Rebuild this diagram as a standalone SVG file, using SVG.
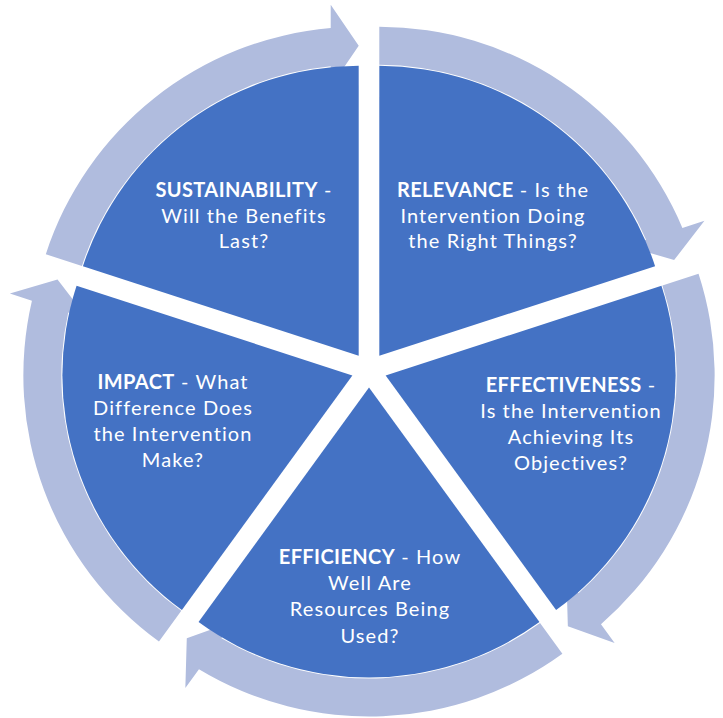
<svg xmlns="http://www.w3.org/2000/svg" xmlns:xlink="http://www.w3.org/1999/xlink" width="723" height="718" viewBox="0 0 723 718">
  <style>
    .wedge { fill: #4472C4; }
    .arrow { fill: #B0BCDE; }
    .lbl { font-family: Lato, "Liberation Sans", sans-serif; font-size: 20px; fill: #FFFFFF; text-anchor: middle; letter-spacing: 1.1px; }
    .b { font-weight: bold; letter-spacing: 0.4px; }
  </style>
  <defs>
    <path id="wedgeShape" d="M0,0 L234.615,-170.458 A290,290 0 0 1 234.615,170.458 Z"/>
    <path id="arrowShape" d="M266.166,-193.381 A329,329 0 0 1 281.662,170.030 L300.423,183.660 L250.795,182.213 L234.083,135.462 L250.789,147.600 A291,291 0 0 0 235.424,-171.045 Z"/>
  </defs>
  <rect width="723" height="718" fill="#FFFFFF"/>
  <g id="connectors">
    <use xlink:href="#arrowShape" class="arrow" transform="translate(369,370) rotate(-54) translate(17.5,0)"/>
    <use xlink:href="#arrowShape" class="arrow" transform="translate(369,370) rotate(18) translate(17.5,0)"/>
    <use xlink:href="#arrowShape" class="arrow" transform="translate(369,370) rotate(90) translate(17.5,0)"/>
    <use xlink:href="#arrowShape" class="arrow" transform="translate(369,370) rotate(162) translate(17.5,0)"/>
    <use xlink:href="#arrowShape" class="arrow" transform="translate(369,370) rotate(234) translate(17.5,0)"/>
  </g>
  <g id="relevance">
    <use xlink:href="#wedgeShape" class="wedge" transform="translate(369,370) rotate(-54) translate(17.5,0)"/>
    <text class="lbl" x="493" y="197"><tspan class="b">RELEVANCE</tspan> - Is the</text>
    <text class="lbl" x="493" y="223">Intervention Doing</text>
    <text class="lbl" x="493" y="248">the Right Things?</text>
  </g>
  <g id="effectiveness">
    <use xlink:href="#wedgeShape" class="wedge" transform="translate(369,370) rotate(18) translate(17.5,0)"/>
    <text class="lbl" x="571" y="392"><tspan class="b">EFFECTIVENESS</tspan> -</text>
    <text class="lbl" x="571" y="418">Is the Intervention</text>
    <text class="lbl" x="571" y="444">Achieving Its</text>
    <text class="lbl" x="571" y="470">Objectives?</text>
  </g>
  <g id="efficiency">
    <use xlink:href="#wedgeShape" class="wedge" transform="translate(369,370) rotate(90) translate(17.5,0)"/>
    <text class="lbl" x="370" y="564"><tspan class="b">EFFICIENCY</tspan> - How</text>
    <text class="lbl" x="370" y="590">Well Are</text>
    <text class="lbl" x="370" y="616">Resources Being</text>
    <text class="lbl" x="370" y="643">Used?</text>
  </g>
  <g id="impact">
    <use xlink:href="#wedgeShape" class="wedge" transform="translate(369,370) rotate(162) translate(17.5,0)"/>
    <text class="lbl" x="173" y="389"><tspan class="b">IMPACT</tspan> - What</text>
    <text class="lbl" x="173" y="415">Difference Does</text>
    <text class="lbl" x="173" y="441">the Intervention</text>
    <text class="lbl" x="173" y="467">Make?</text>
  </g>
  <g id="sustainability">
    <use xlink:href="#wedgeShape" class="wedge" transform="translate(369,370) rotate(234) translate(17.5,0)"/>
    <text class="lbl" x="244" y="197"><tspan class="b">SUSTAINABILITY</tspan> -</text>
    <text class="lbl" x="244" y="223">Will the Benefits</text>
    <text class="lbl" x="244" y="248">Last?</text>
  </g>
</svg>
